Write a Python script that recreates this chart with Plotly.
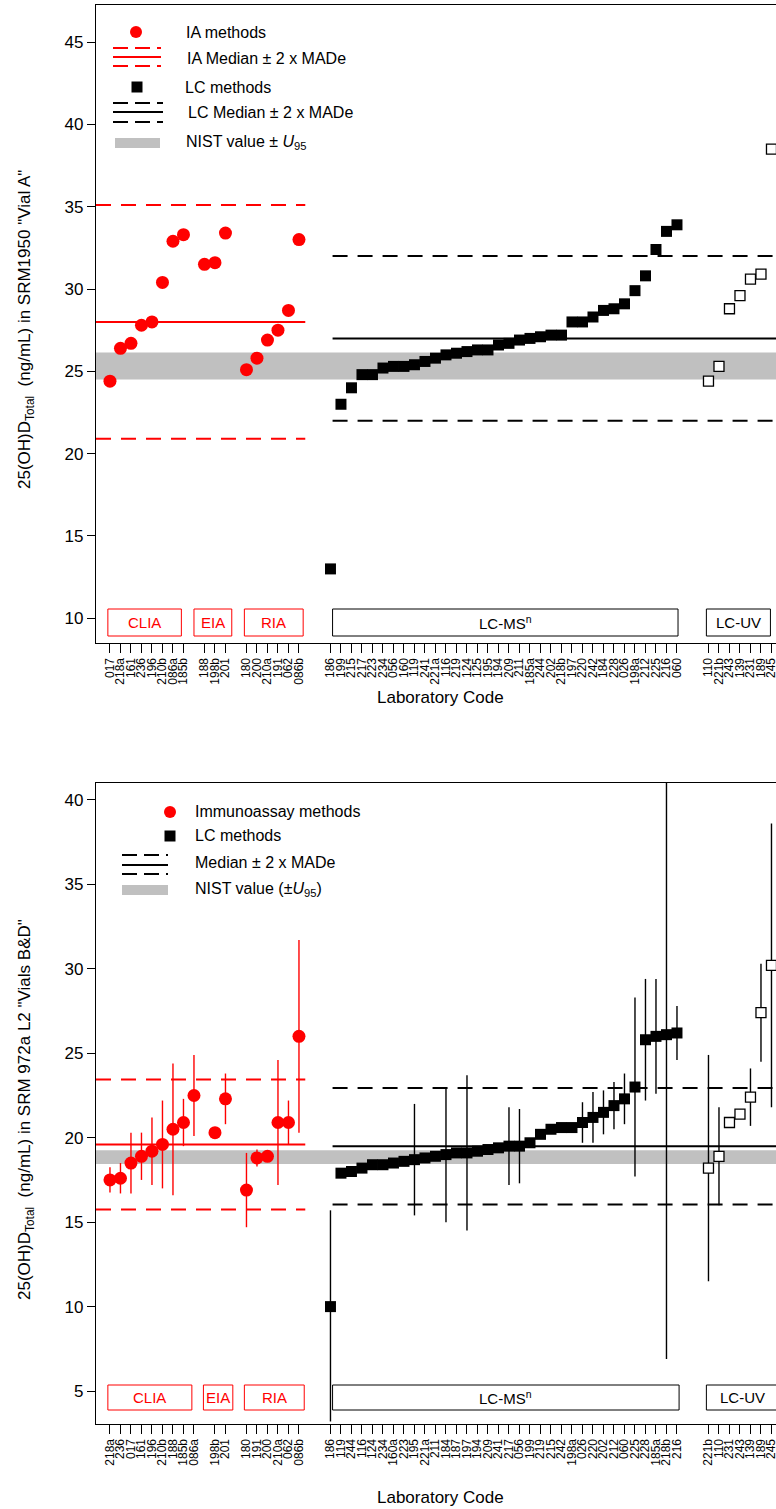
import plotly.graph_objects as go

# ---------------- SRM 1950 "Vial A" (top panel) ----------------
top_clia_labels = ["017", "218a", "161", "236", "196", "210b", "086a", "185b"]
top_clia_values = [24.4, 26.4, 26.7, 27.8, 28.0, 30.4, 32.9, 33.3]
top_eia_labels = ["188", "198b", "201"]
top_eia_values = [31.5, 31.6, 33.4]
top_ria_labels = ["180", "200", "210a", "191", "062", "086b"]
top_ria_values = [25.1, 25.8, 26.9, 27.5, 28.7, 33.0]
top_lcms_labels = ["186", "199", "215", "217", "223", "234", "056", "160", "119", "241",
                   "221a", "116", "219", "124", "125", "195", "194", "209", "211", "185a",
                   "244", "202", "218b", "197", "220", "242", "184", "228", "026", "198a",
                   "212", "225", "216", "060"]
top_lcms_values = [13.0, 23.0, 24.0, 24.8, 24.8, 25.2, 25.3, 25.3, 25.4, 25.6,
                   25.8, 26.0, 26.1, 26.2, 26.3, 26.3, 26.6, 26.7, 26.9, 27.0,
                   27.1, 27.2, 27.2, 28.0, 28.0, 28.3, 28.7, 28.8, 29.1, 29.9,
                   30.8, 32.4, 33.5, 33.9]
top_lcuv_labels = ["110", "221b", "243", "139", "231", "189", "245"]
top_lcuv_values = [24.4, 25.3, 28.8, 29.6, 30.6, 30.9, 38.5]

top_ia_median, top_ia_made2 = 28.0, 7.1
top_lc_median, top_lc_made2 = 27.0, 5.0
top_nist_low, top_nist_high = 24.5, 26.15

# ---------------- SRM 972a L2 "Vials B&D" (bottom panel) ----------------
bot_clia_labels = ["218a", "236", "017", "161", "196", "210b", "188", "185b", "086a"]
bot_clia_values = [17.5, 17.6, 18.5, 18.9, 19.2, 19.6, 20.5, 20.9, 22.5]
bot_clia_err = [0.75, 0.9, 1.8, 1.4, 2.0, 2.6, 3.9, 1.4, 2.4]
bot_eia_labels = ["198b", "201"]
bot_eia_values = [20.3, 22.3]
bot_eia_err = [0.0, 1.5]
bot_ria_labels = ["180", "191", "200", "210a", "062", "086b"]
bot_ria_values = [16.9, 18.8, 18.9, 20.9, 20.9, 26.0]
bot_ria_err = [2.2, 0.5, 0.3, 3.7, 1.3, 5.7]
bot_lcms_labels = ["186", "119", "244", "116", "124", "234", "160a", "223", "195", "221a",
                   "211", "184", "187", "197", "194", "209", "241", "217", "056", "199",
                   "219", "215", "242", "198a", "026", "220", "202", "212", "060", "225",
                   "228", "185a", "218b", "216"]
bot_lcms_values = [10.0, 17.9, 18.0, 18.2, 18.4, 18.4, 18.5, 18.6, 18.7, 18.8,
                   18.9, 19.0, 19.1, 19.1, 19.2, 19.3, 19.4, 19.5, 19.5, 19.7,
                   20.2, 20.5, 20.6, 20.6, 20.9, 21.2, 21.5, 21.9, 22.3, 23.0,
                   25.8, 26.0, 26.1, 26.2]
# upper and lower uncertainty half-widths
bot_lcms_err_up = [5.7, 0, 0, 0, 0, 0, 0, 0, 3.3, 0,
                   0, 4.0, 0, 4.6, 0, 0, 0, 2.3, 2.2, 0,
                   0, 0, 0, 0, 1.2, 1.5, 1.3, 1.4, 1.5, 5.3,
                   3.6, 3.4, 19.2, 1.6]
bot_lcms_err_down = [6.8, 0, 0, 0, 0, 0, 0, 0, 3.3, 0,
                     0, 4.0, 0, 4.6, 0, 0, 0, 2.3, 2.2, 0,
                     0, 0, 0, 0, 1.2, 1.5, 1.3, 1.4, 1.5, 5.3,
                     3.6, 3.4, 19.2, 1.6]
bot_lcuv_labels = ["221b", "110", "231", "243", "139", "189", "245"]
bot_lcuv_values = [18.2, 18.9, 20.9, 21.4, 22.4, 27.4, 30.2]
bot_lcuv_err = [6.7, 2.9, 0.3, 0.3, 1.7, 2.9, 8.4]

bot_ia_median, bot_ia_made2 = 19.6, 3.85
bot_lc_median, bot_lc_made2 = 19.5, 3.45
bot_nist_low, bot_nist_high = 18.45, 19.25

# ---------------- styling ----------------
FONT = "Arial, Liberation Sans, sans-serif"
RED = "#ff0000"
BLACK = "#000000"
GREY = "#c0c0c0"
W, H = 776, 1509
L_PX = 96                        # left edge of plot area in pixels
TOP_PX = (5, 643)                # top panel frame (y top, y bottom)
BOT_PX = (783, 1424)             # bottom panel frame
X_RANGE = [-1.33, 63.43]
GAPS = [1, 1, 2, 2]              # empty slots between method groups
DASH = "15px,10px"


def positions(sizes):
    """Category slot index for each lab, leaving gaps between method groups."""
    out, start = [], 0
    for i, n in enumerate(sizes):
        out.append(list(range(start, start + n)))
        start += n + (GAPS[i] if i < len(GAPS) else 0)
    return out


fig = go.Figure()


def err(e, color):
    if e is None:
        return None
    up, down = e
    return dict(type="data", array=up, arrayminus=down, symmetric=False,
                color=color, thickness=1.4, width=0)


def add_panel(ax, groups, ia_stats, lc_stats, nist, boxes, box_px, legend, ypx, with_err):
    xa = "x" if ax == 1 else "x2"
    ya = "y" if ax == 1 else "y2"
    xd = f"{xa} domain"
    yd = f"{ya} domain"
    span = ypx[1] - ypx[0]
    sizes = [len(g[0]) for g in groups]
    pos = positions(sizes)

    ia_x = pos[0] + pos[1] + pos[2]
    ia_y = groups[0][1] + groups[1][1] + groups[2][1]
    ia_e = None
    if with_err:
        ia_err = groups[0][2] + groups[1][2] + groups[2][2]
        ia_e = (ia_err, ia_err)

    # NIST band
    fig.add_shape(type="rect", xref=xd, yref=ya, x0=0, x1=1, y0=nist[0], y1=nist[1],
                  fillcolor=GREY, line_width=0, layer="below")
    # IA and LC median +/- 2 MADe
    ia_end = pos[2][-1] + 0.6
    lc_start = pos[3][0] + 0.2
    for (med, d), x0, x1, color in [(ia_stats, X_RANGE[0], ia_end, RED),
                                    (lc_stats, lc_start, X_RANGE[1], BLACK)]:
        for yv, dash in [(med, "solid"), (med + d, DASH), (med - d, DASH)]:
            fig.add_shape(type="line", xref=xa, yref=ya, x0=x0, x1=x1, y0=yv, y1=yv,
                          line=dict(color=color, width=2, dash=dash), layer="below")

    fig.add_trace(go.Scatter(x=ia_x, y=ia_y, mode="markers", xaxis=xa, yaxis=ya,
                             marker=dict(symbol="circle", size=13, color=RED, line_width=0),
                             error_y=err(ia_e, RED), showlegend=False))
    fig.add_trace(go.Scatter(x=pos[3], y=groups[3][1], mode="markers", xaxis=xa, yaxis=ya,
                             marker=dict(symbol="square", size=11, color=BLACK, line_width=0),
                             error_y=err(groups[3][2] if with_err else None, BLACK),
                             showlegend=False))
    uv_e = (groups[4][2], groups[4][2]) if with_err else None
    fig.add_trace(go.Scatter(x=pos[4], y=groups[4][1], mode="markers", xaxis=xa, yaxis=ya,
                             marker=dict(symbol="square", size=10, color="white",
                                         line=dict(color=BLACK, width=1.3)),
                             error_y=err(uv_e, BLACK), showlegend=False))

    # method group boxes along the bottom (box_px: bottom, text, top offsets above the axis)
    b0, bt, b1 = box_px
    for (name, x0, x1, color) in boxes:
        fig.add_shape(type="rect", xref=xa, yref=yd, x0=x0, x1=x1,
                      y0=b0 / span, y1=b1 / span,
                      line=dict(color=color, width=1), fillcolor="white")
        fig.add_annotation(xref=xa, yref=yd, x=(x0 + x1) / 2, y=bt / span,
                           text=name, showarrow=False, font=dict(color=color, size=15, family=FONT),
                           xanchor="center", yanchor="middle")

    # legend block drawn by hand
    def fx(px):
        return (px - L_PX) / (W - L_PX)

    def fy(py):
        return (ypx[1] - py) / span

    for item in legend:
        kind = item[0]
        if kind == "dot":
            _, cx, cy, r, color = item
            fig.add_shape(type="circle", xref=xd, yref=yd, x0=fx(cx - r), x1=fx(cx + r),
                          y0=fy(cy + r), y1=fy(cy - r), fillcolor=color, line_width=0)
        elif kind == "sq":
            _, cx, cy, r, color = item
            fig.add_shape(type="rect", xref=xd, yref=yd, x0=fx(cx - r), x1=fx(cx + r),
                          y0=fy(cy + r), y1=fy(cy - r), fillcolor=color, line_width=0)
        elif kind == "lines":
            _, x0, x1, ys, color = item
            for yy, dash in zip(ys, ["15px,7px", "solid", "15px,7px"]):
                fig.add_shape(type="line", xref=xd, yref=yd, x0=fx(x0), x1=fx(x1),
                              y0=fy(yy), y1=fy(yy), line=dict(color=color, width=2, dash=dash))
        elif kind == "bar":
            _, x0, x1, y0, y1 = item
            fig.add_shape(type="rect", xref=xd, yref=yd, x0=fx(x0), x1=fx(x1),
                          y0=fy(y1), y1=fy(y0), fillcolor=GREY, line_width=0)
        elif kind == "text":
            _, tx, ty, txt = item
            fig.add_annotation(xref=xd, yref=yd, x=fx(tx), y=fy(ty), text=txt, showarrow=False,
                               xanchor="left", yanchor="middle",
                               font=dict(size=16, color=BLACK, family=FONT))

    return pos


PM = "±"

top_groups = [(top_clia_labels, top_clia_values, None), (top_eia_labels, top_eia_values, None),
              (top_ria_labels, top_ria_values, None), (top_lcms_labels, top_lcms_values, None),
              (top_lcuv_labels, top_lcuv_values, None)]
bot_groups = [(bot_clia_labels, bot_clia_values, bot_clia_err),
              (bot_eia_labels, bot_eia_values, bot_eia_err),
              (bot_ria_labels, bot_ria_values, bot_ria_err),
              (bot_lcms_labels, bot_lcms_values, (bot_lcms_err_up, bot_lcms_err_down)),
              (bot_lcuv_labels, bot_lcuv_values, bot_lcuv_err)]

top_boxes = [("CLIA", -0.2, 6.8, RED), ("EIA", 8.0, 11.6, RED), ("RIA", 12.8, 18.4, RED),
             ("LC-MS<sup>n</sup>", 21.2, 54.1, BLACK), ("LC-UV", 56.8, 62.9, BLACK)]
bot_boxes = [("CLIA", -0.2, 7.8, RED), ("EIA", 8.9, 11.7, RED), ("RIA", 12.8, 18.5, RED),
             ("LC-MS<sup>n</sup>", 21.2, 54.2, BLACK), ("LC-UV", 56.8, 63.6, BLACK)]

top_legend = [
    ("dot", 136, 32, 6, RED), ("text", 184, 32, "IA methods"),
    ("lines", 113, 161, [48, 57, 66], RED), ("text", 185, 58, f"IA Median {PM} 2 x MADe"),
    ("sq", 137, 87, 5.5, BLACK), ("text", 183, 87, "LC methods"),
    ("lines", 113, 163, [103, 112, 122], BLACK), ("text", 186, 112, f"LC Median {PM} 2 x MADe"),
    ("bar", 115, 160, 138, 148), ("text", 184, 142, f"NIST value {PM} <i>U</i><sub>95</sub>"),
]
bot_legend = [
    ("dot", 170, 812, 6, RED), ("text", 193, 811, "Immunoassay methods"),
    ("sq", 170, 836, 5.5, BLACK), ("text", 193, 835, "LC methods"),
    ("lines", 122, 168, [855, 865, 874], BLACK), ("text", 193, 862, f"Median {PM} 2 x MADe"),
    ("bar", 122, 168, 885, 895), ("text", 193, 889, f"NIST value ({PM}<i>U</i><sub>95</sub>)"),
]

top_pos = add_panel(1, top_groups, (top_ia_median, top_ia_made2), (top_lc_median, top_lc_made2),
                    (top_nist_low, top_nist_high), top_boxes, (7, 21, 34), top_legend, TOP_PX, False)
bot_pos = add_panel(2, bot_groups, (bot_ia_median, bot_ia_made2), (bot_lc_median, bot_lc_made2),
                    (bot_nist_low, bot_nist_high), bot_boxes, (14, 27, 39), bot_legend, BOT_PX, True)

top_ticks = sum(top_pos, [])
top_text = sum([g[0] for g in top_groups], [])
bot_ticks = sum(bot_pos, [])
bot_text = sum([g[0] for g in bot_groups], [])


def xaxis(ticks, text, anchor):
    return dict(range=X_RANGE, tickvals=ticks, ticktext=text, tickangle=-90,
                ticks="outside", ticklen=9, tickwidth=1.3, tickcolor=BLACK,
                tickfont=dict(size=12, color=BLACK, family=FONT),
                ticklabeloverflow="allow",
                showline=True, linecolor=BLACK, linewidth=1.3, mirror=True,
                showgrid=False, zeroline=False, anchor=anchor, fixedrange=True)


def yaxis(rng, tickvals, dom, anchor):
    return dict(range=rng, tickvals=tickvals, ticks="outside", ticklen=8, tickwidth=1.3,
                tickcolor=BLACK, tickfont=dict(size=17, color=BLACK, family=FONT),
                showline=True, linecolor=BLACK, linewidth=1.3, mirror=False,
                showgrid=False, zeroline=False, domain=dom, anchor=anchor)


top_dom = [1 - TOP_PX[1] / H, 1 - TOP_PX[0] / H]
bot_dom = [1 - BOT_PX[1] / H, 1 - BOT_PX[0] / H]

fig.update_layout(
    width=W, height=H,
    margin=dict(l=L_PX, r=0, t=0, b=0, autoexpand=False),
    paper_bgcolor="white", plot_bgcolor="white",
    showlegend=False,
    font=dict(family=FONT, color=BLACK),
    xaxis=xaxis(top_ticks, top_text, "y"),
    yaxis=yaxis([8.5, 47.25], [10, 15, 20, 25, 30, 35, 40, 45], top_dom, "x"),
    xaxis2=xaxis(bot_ticks, bot_text, "y2"),
    yaxis2=yaxis([3.05, 41.0], [5, 10, 15, 20, 25, 30, 35, 40], bot_dom, "x2"),
)

# axis titles
for yc, txt in [(1 - 330 / H, "25(OH)D<sub>Total</sub>  (ng/mL) in SRM1950 \"Vial A\""),
                (1 - 1110 / H, "25(OH)D<sub>Total</sub>  (ng/mL) in SRM 972a L2 \"Vials B&D\"")]:
    fig.add_annotation(xref="paper", yref="paper", x=0, y=yc, xshift=-(L_PX - 26),
                       text=txt, textangle=-90, showarrow=False, xanchor="center",
                       yanchor="middle", font=dict(size=17, color=BLACK, family=FONT))
for yc in [1 - 697 / H, 1 - 1497 / H]:
    fig.add_annotation(xref="paper", yref="paper", x=(440 - L_PX) / (W - L_PX), y=yc,
                       text="Laboratory Code", showarrow=False, xanchor="center",
                       yanchor="middle", font=dict(size=17, color=BLACK, family=FONT))

fig.write_html("out.html")
